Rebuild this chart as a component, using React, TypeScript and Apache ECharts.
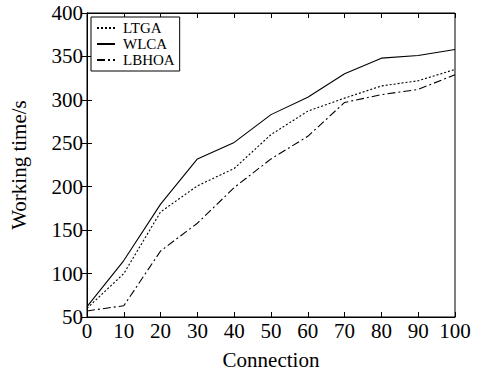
import React, { useEffect, useRef } from "react";
import * as echarts from "echarts";

const connections = [0, 10, 20, 30, 40, 50, 60, 70, 80, 90, 100];
const ltga = [60, 100, 171, 201, 221, 260, 287, 302, 316, 322, 335];
const wlca = [62, 115, 180, 232, 251, 283, 303, 330, 348, 351, 358];
const lbhoa = [57, 63, 126, 158, 199, 232, 258, 297, 306, 312, 329];

const FONT = "Liberation Serif";

export default function App() {
  const ref = useRef<HTMLDivElement>(null);
  useEffect(() => {
    document.body.style.margin = "0";
    const chart = echarts.init(ref.current!, undefined, { renderer: "svg" });
    const pair = (arr: number[]) => connections.map((c, i) => [c, arr[i]]);
    const lineCommon = { type: "line", symbol: "none", showSymbol: false, smooth: false };
    chart.setOption({
      animation: false,
      backgroundColor: "#fff",
      textStyle: { fontFamily: FONT, color: "#000" },
      grid: { left: 86, right: 27, top: 13, bottom: 48, show: true, borderColor: "#000", borderWidth: 1 },
      legend: {
        orient: "vertical",
        left: 91,
        top: 17,
        itemWidth: 18,
        itemHeight: 12,
        itemGap: 0,
        padding: [3, 5, 3, 5],
        borderColor: "#000",
        borderWidth: 1,
        backgroundColor: "#fff",
        itemStyle: { color: "transparent", borderWidth: 0, opacity: 0 },
        textStyle: { fontFamily: FONT, fontSize: 15, color: "#000", padding: [0, 0, 0, 3], lineHeight: 16 },
        data: ["LTGA", "WLCA", "LBHOA"],
      },
      xAxis: [
        {
          type: "value",
          min: 0,
          max: 100,
          interval: 10,
          name: "Connection",
          nameLocation: "middle",
          nameGap: 32,
          nameTextStyle: { fontFamily: FONT, fontSize: 21, color: "#000" },
          axisLine: { show: true, lineStyle: { color: "#000" } },
          axisTick: { show: true, inside: true, length: 5, lineStyle: { color: "#000" } },
          axisLabel: { fontFamily: FONT, fontSize: 21, color: "#000", margin: 3 },
          splitLine: { show: false },
        },
        {
          type: "value",
          position: "top",
          min: 0,
          max: 100,
          interval: 10,
          axisLine: { show: true, lineStyle: { color: "#000" } },
          axisTick: { show: true, inside: true, length: 5, lineStyle: { color: "#000" } },
          axisLabel: { show: false },
          splitLine: { show: false },
        },
      ],
      yAxis: [
        {
          type: "value",
          min: 50,
          max: 400,
          interval: 50,
          name: "Working time/s",
          nameLocation: "middle",
          nameGap: 58,
          nameTextStyle: { fontFamily: FONT, fontSize: 21, color: "#000" },
          axisLine: { show: true, lineStyle: { color: "#000" } },
          axisTick: { show: true, inside: true, length: 5, lineStyle: { color: "#000" } },
          axisLabel: { fontFamily: FONT, fontSize: 21, color: "#000", margin: 4 },
          splitLine: { show: false },
        },
        {
          type: "value",
          position: "right",
          min: 50,
          max: 400,
          interval: 50,
          axisLine: { show: true, lineStyle: { color: "#000" } },
          axisTick: { show: true, inside: true, length: 5, lineStyle: { color: "#000" } },
          axisLabel: { show: false },
          splitLine: { show: false },
        },
      ],
      series: [
        { ...lineCommon, name: "LTGA", data: pair(ltga), lineStyle: { color: "#000", width: 1.1, type: [2, 2] }, itemStyle: { color: "#000" } },
        { ...lineCommon, name: "WLCA", data: pair(wlca), lineStyle: { color: "#000", width: 1.1, type: "solid" }, itemStyle: { color: "#000" } },
        { ...lineCommon, name: "LBHOA", data: pair(lbhoa), lineStyle: { color: "#000", width: 1.1, type: [8, 3, 2, 3] }, itemStyle: { color: "#000" } },
      ],
    });
    return () => chart.dispose();
  }, []);
  return <div ref={ref} style={{ width: 482, height: 375 }} />;
}
